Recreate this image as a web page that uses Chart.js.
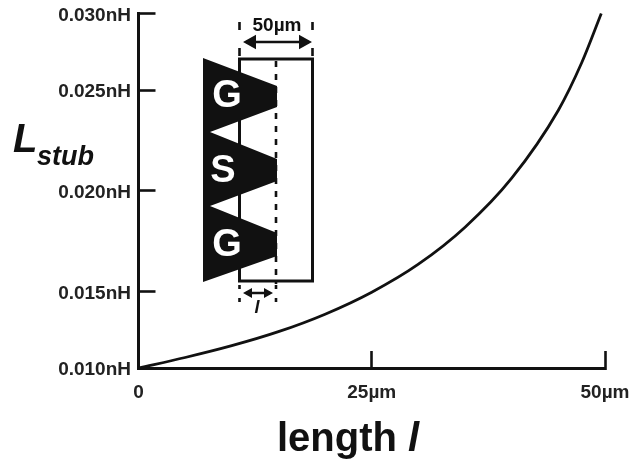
<!DOCTYPE html>
<html><head><meta charset="utf-8">
<style>html,body{margin:0;padding:0;background:#fff}#w{width:642px;height:461px}</style>
<script src="https://cdn.jsdelivr.net/npm/chart.js@4/dist/chart.umd.js"></script>
</head><body><div id="w"><canvas id="c" width="642" height="461"></canvas></div>
<script>
const lengthUm = [0, 5, 10, 15, 20, 25, 30, 35, 40, 45, 47.5, 49.6];
const lstubNh = [0.0100, 0.010684, 0.011454, 0.012366, 0.013507, 0.014941, 0.016351, 0.018195, 0.020634, 0.0240, 0.02678, 0.0300];
const xTicks = [0, 25, 50];
const xTickLabels = ['0', '25\u00b5m', '50\u00b5m'];
const yTicks = [0.010, 0.015, 0.020, 0.025, 0.030];
const yTickLabels = ['0.010nH', '0.015nH', '0.020nH', '0.025nH', '0.030nH'];
const yTickFractions = [0, 0.2164, 0.4993, 0.7842, 1];

class UnevenScale extends Chart.LinearScale {
  getPixelForValue(v) {
    let i = 0;
    while (i < yTicks.length - 2 && v > yTicks[i + 1]) i++;
    const t = (v - yTicks[i]) / (yTicks[i + 1] - yTicks[i]);
    return this.getPixelForDecimal(yTickFractions[i] + t * (yTickFractions[i + 1] - yTickFractions[i]));
  }
  _computeLabelItems(chartArea) {
    const items = super._computeLabelItems(chartArea);
    items.forEach(it => { it.options.translation[1] += 2; });
    return items;
  }
}
UnevenScale.id = 'uneven';
UnevenScale.defaults = Chart.LinearScale.defaults;
Chart.register(UnevenScale);

const FONT = '"Liberation Sans", Arial, sans-serif';
function arrow(g, x1, x2, y, s) {
  g.lineWidth = 2.5; g.beginPath(); g.moveTo(x1 + 3, y); g.lineTo(x2 - 3, y); g.stroke();
  g.beginPath(); g.moveTo(x1, y); g.lineTo(x1 + s, y - s * 0.55); g.lineTo(x1 + s, y + s * 0.55);
  g.closePath(); g.moveTo(x2, y); g.lineTo(x2 - s, y - s * 0.55); g.lineTo(x2 - s, y + s * 0.55); g.closePath(); g.fill();
}
function dots(g, x, y1, y2, dash) {
  g.save(); g.lineWidth = 2.6; g.setLineDash(dash); g.beginPath(); g.moveTo(x, y1); g.lineTo(x, y2); g.stroke(); g.restore();
}
const annotations = {
  id: 'annotations',
  afterDraw(chart) {
    const g = chart.ctx;
    g.save();
    g.fillStyle = '#111'; g.strokeStyle = '#111'; g.textBaseline = 'alphabetic';
    // axis titles
    g.textAlign = 'left';
    g.font = 'bold 40px ' + FONT; g.fillText('length ', 277, 451);
    const w = g.measureText('length ').width;
    g.font = 'italic bold 40px ' + FONT; g.fillText('l', 277 + w, 451);
    g.font = 'italic bold 40px ' + FONT; g.fillText('L', 13, 152);
    g.font = 'italic bold 27px ' + FONT; g.fillText('stub', 37, 165);
    // inset
    g.lineWidth = 3; g.strokeRect(239.5, 59, 73, 222);
    dots(g, 276, 61, 284, [6, 7]);
    dots(g, 239.5, 22, 56, [8, 18]); dots(g, 312.5, 22, 56, [8, 18]);
    dots(g, 239.5, 285, 302, [4, 9]); dots(g, 276, 285, 302, [4, 9]);
    g.beginPath();
    [[203,58],[277,86],[277,107],[210,132],[277,159],[277,181],[210,206],[277,233],[277,256],[203,282]]
      .forEach((p, i) => i ? g.lineTo(p[0], p[1]) : g.moveTo(p[0], p[1]));
    g.closePath(); g.fill();
    g.fillStyle = '#fff'; g.textAlign = 'center';
    g.font = 'bold 38px ' + FONT;
    g.fillText('G', 227, 107); g.fillText('S', 223, 182); g.fillText('G', 227, 256);
    g.fillStyle = '#111';
    g.font = 'bold 19px ' + FONT; g.fillText('50\u00b5m', 277, 31);
    arrow(g, 243, 312, 42, 13);
    arrow(g, 243, 273, 293, 9);
    g.font = 'italic bold 18px ' + FONT; g.fillText('l', 257, 313);
    g.restore();
  }
};

new Chart(document.getElementById('c'), {
  type: 'line',
  data: { datasets: [{
    data: lengthUm.map((x, i) => ({ x, y: lstubNh[i] })),
    borderColor: '#111', borderWidth: 2.8, pointRadius: 0, cubicInterpolationMode: 'monotone', fill: false, clip: false
  }]},
  options: {
    responsive: false, animation: false, events: [],
    layout: { padding: { left: 0, right: 37, top: 13.5, bottom: 0 } },
    plugins: { legend: { display: false }, title: { display: false }, tooltip: { enabled: false } },
    scales: {
      x: {
        type: 'linear', min: 0, max: 50,
        afterFit(s) { s.height = 93; s.paddingLeft = 0; s.paddingRight = 0; },
        afterBuildTicks(s) { s.ticks = xTicks.map(value => ({ value })); },
        grid: { drawOnChartArea: false, drawTicks: true, tickLength: -17, tickWidth: 2.6, tickColor: '#111' },
        border: { display: true, color: '#111', width: 3 },
        ticks: { padding: 30, maxRotation: 0, autoSkip: false, color: '#222', font: { family: FONT, size: 19, weight: 'bold' },
          callback: (v) => xTickLabels[xTicks.indexOf(v)] }
      },
      y: {
        type: 'uneven', min: 0.010, max: 0.030,
        afterFit(s) { s.width = 138.5; s.paddingTop = 0; s.paddingBottom = 0; },
        afterBuildTicks(s) { s.ticks = yTicks.map(value => ({ value })); },
        grid: { drawOnChartArea: false, drawTicks: true, tickLength: -17, tickWidth: 2.6, tickColor: '#111' },
        border: { display: true, color: '#111', width: 3 },
        ticks: { padding: 24.5, autoSkip: false, color: '#222', font: { family: FONT, size: 19, weight: 'bold' },
          callback: (v) => yTickLabels[yTicks.findIndex(t => Math.abs(t - v) < 1e-9)] }
      }
    }
  },
  plugins: [annotations]
});
</script></body></html>
